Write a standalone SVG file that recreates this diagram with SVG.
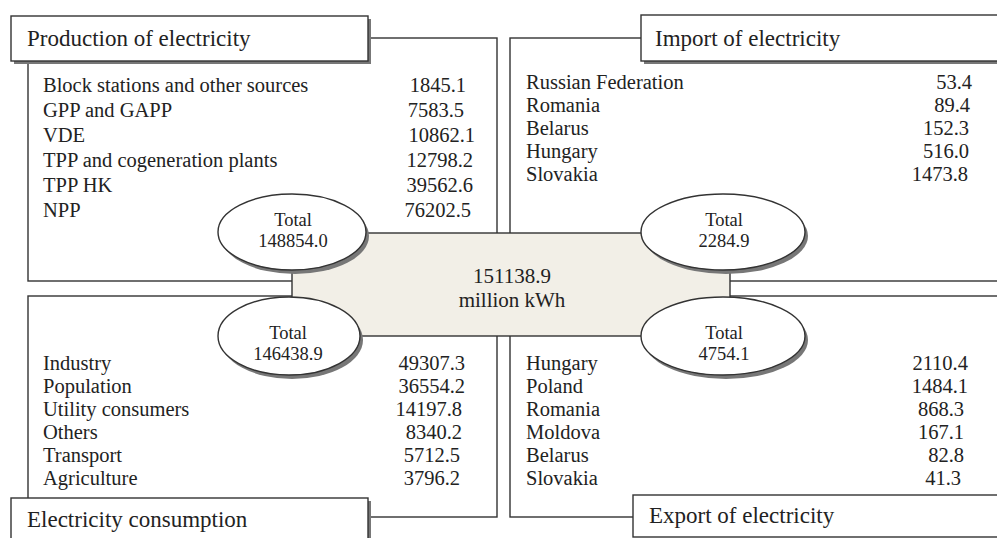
<svg xmlns="http://www.w3.org/2000/svg" width="997" height="538" viewBox="0 0 997 538">
<style>
text{font-family:"Liberation Serif","Times New Roman",serif;fill:#222}
.t{font-size:20.5px}
.h{font-size:23px}
.c{font-size:21px}
.s{font-size:18.5px}
.panel{fill:#fff;stroke:#333;stroke-width:1.4}
.title{fill:#fff;stroke:#333;stroke-width:1.4}
.shadow{fill:#777}
.ell{fill:#fff;stroke:#333;stroke-width:1.4}
.center{fill:#f2efe7;stroke:#333;stroke-width:1.4}
.e{text-anchor:end}
.m{text-anchor:middle}
</style>
<rect width="997" height="538" fill="#fff"/>
<g id="production-panel">
<rect class="panel" x="28" y="38" width="469" height="243"/>
<text class="t" x="43" y="92">Block stations and other sources</text>
<text class="t" x="43" y="117">GPP and GAPP</text>
<text class="t" x="43" y="142">VDE</text>
<text class="t" x="43" y="167">TPP and cogeneration plants</text>
<text class="t" x="43" y="192">TPP HK</text>
<text class="t" x="43" y="217">NPP</text>
<text class="t e" x="466" y="92">1845.1</text>
<text class="t e" x="464" y="117">7583.5</text>
<text class="t e" x="475" y="142">10862.1</text>
<text class="t e" x="473" y="167">12798.2</text>
<text class="t e" x="473" y="192">39562.6</text>
<text class="t e" x="471" y="217">76202.5</text>
</g>
<g id="import-panel">
<rect class="panel" x="510" y="38" width="500" height="243"/>
<text class="t" x="526" y="89">Russian Federation</text>
<text class="t" x="526" y="112">Romania</text>
<text class="t" x="526" y="135">Belarus</text>
<text class="t" x="526" y="158">Hungary</text>
<text class="t" x="526" y="181">Slovakia</text>
<text class="t e" x="972" y="89">53.4</text>
<text class="t e" x="970" y="112">89.4</text>
<text class="t e" x="969" y="135">152.3</text>
<text class="t e" x="969" y="158">516.0</text>
<text class="t e" x="968" y="181">1473.8</text>
</g>
<g id="consumption-panel">
<rect class="panel" x="28" y="296" width="469" height="221"/>
<text class="t" x="43" y="370">Industry</text>
<text class="t" x="43" y="393">Population</text>
<text class="t" x="43" y="416">Utility consumers</text>
<text class="t" x="43" y="439">Others</text>
<text class="t" x="43" y="462">Transport</text>
<text class="t" x="43" y="485">Agriculture</text>
<text class="t e" x="465" y="370">49307.3</text>
<text class="t e" x="465" y="393">36554.2</text>
<text class="t e" x="462" y="416">14197.8</text>
<text class="t e" x="462" y="439">8340.2</text>
<text class="t e" x="460" y="462">5712.5</text>
<text class="t e" x="460" y="485">3796.2</text>
</g>
<g id="export-panel">
<rect class="panel" x="510" y="296" width="500" height="221"/>
<text class="t" x="526" y="370">Hungary</text>
<text class="t" x="526" y="393">Poland</text>
<text class="t" x="526" y="416">Romania</text>
<text class="t" x="526" y="439">Moldova</text>
<text class="t" x="526" y="462">Belarus</text>
<text class="t" x="526" y="485">Slovakia</text>
<text class="t e" x="968" y="370">2110.4</text>
<text class="t e" x="968" y="393">1484.1</text>
<text class="t e" x="964" y="416">868.3</text>
<text class="t e" x="964" y="439">167.1</text>
<text class="t e" x="964" y="462">82.8</text>
<text class="t e" x="961" y="485">41.3</text>
</g>
<g id="total-center">
<rect class="center" x="292" y="233" width="438" height="103"/>
<text class="c m" x="512" y="283">151138.9</text>
<text class="c m" x="512" y="307">million kWh</text>
</g>
<g id="title-production">
<rect class="shadow" x="14" y="19" width="357" height="45"/>
<rect class="title" x="11" y="16" width="357" height="45"/>
<text class="h" x="27" y="46">Production of electricity</text>
</g>
<g id="title-import">
<rect class="shadow" x="644" y="18" width="370" height="46"/>
<rect class="title" x="641" y="15" width="370" height="46"/>
<text class="h" x="655" y="46">Import of electricity</text>
</g>
<g id="title-consumption">
<rect class="shadow" x="14" y="501" width="357" height="50"/>
<rect class="title" x="11" y="498" width="357" height="50"/>
<text class="h" x="27" y="527">Electricity consumption</text>
</g>
<g id="title-export">
<rect class="title" x="633" y="495" width="380" height="42"/>
<text class="h" x="649" y="523">Export of electricity</text>
</g>
<g id="total-production">
<ellipse class="shadow" cx="295" cy="236" rx="74" ry="38"/>
<ellipse class="ell" cx="292" cy="232" rx="74" ry="38"/>
<text class="s m" x="293" y="226">Total</text>
<text class="s m" x="293" y="247">148854.0</text>
</g>
<g id="total-import">
<ellipse class="shadow" cx="726" cy="236" rx="82" ry="38"/>
<ellipse class="ell" cx="723" cy="232" rx="82" ry="38"/>
<text class="s m" x="724" y="226">Total</text>
<text class="s m" x="724" y="247">2284.9</text>
</g>
<g id="total-consumption">
<ellipse class="shadow" cx="292" cy="340" rx="71" ry="39"/>
<ellipse class="ell" cx="289" cy="336" rx="71" ry="39"/>
<text class="s m" x="288" y="339">Total</text>
<text class="s m" x="288" y="360">146438.9</text>
</g>
<g id="total-export">
<ellipse class="shadow" cx="726" cy="340" rx="82" ry="39"/>
<ellipse class="ell" cx="723" cy="336" rx="82" ry="39"/>
<text class="s m" x="724" y="339">Total</text>
<text class="s m" x="724" y="360">4754.1</text>
</g>
</svg>
